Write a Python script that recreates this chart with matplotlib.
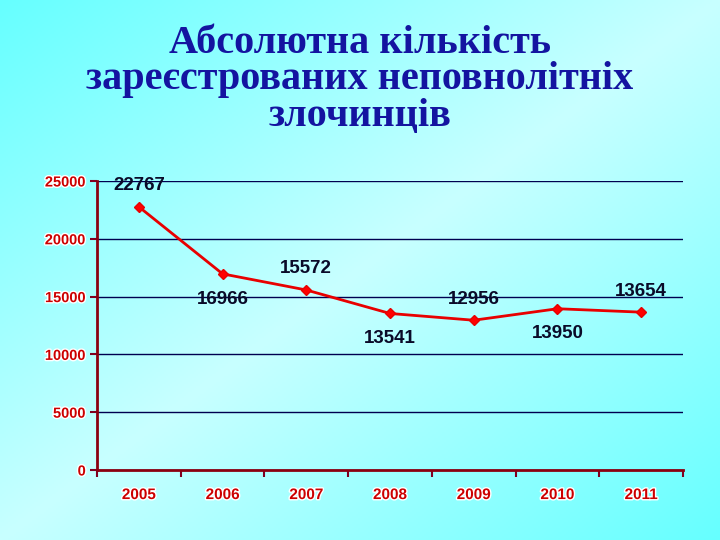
import numpy as np
import matplotlib
matplotlib.use("Agg")
import matplotlib.pyplot as plt
import matplotlib.patheffects as pe

years = ["2005", "2006", "2007", "2008", "2009", "2010", "2011"]
values = [22767, 16966, 15572, 13541, 12956, 13950, 13654]
label_pos = ["above", "below", "above", "below", "above", "below", "above"]
yticks = [0, 5000, 10000, 15000, 20000, 25000]
title_lines = ["Абсолютна кількість", "зареєстрованих неповнолітніх", "злочинців"]

fig = plt.figure(figsize=(7.2, 5.4), dpi=100)

# background gradient
bg = fig.add_axes([0, 0, 1, 1], zorder=-10)
h, w = 270, 360
yy, xx = np.mgrid[0:h, 0:w]
t = np.abs(xx / (w - 1) + yy / (h - 1) - 1.0)
t = np.clip(t, 0, 1)
c_light = np.array([200, 255, 255]) / 255
c_dark = np.array([102, 255, 255]) / 255
img = c_light[None, None, :] * (1 - t[..., None]) + c_dark[None, None, :] * t[..., None]
bg.imshow(img, aspect="auto", extent=[0, 1, 0, 1], origin="upper")
bg.set_axis_off()

for line, base in zip(title_lines, [53, 89, 126]):
    fig.text(0.5, 1 - base / 540, line, ha="center", va="baseline", fontsize=29,
             fontweight="bold", family="Liberation Serif", color="#1414A0")

ax = fig.add_axes([97 / 720, 70 / 540, 586 / 720, 289 / 540])
ax.patch.set_alpha(0)
x = np.arange(len(years))
ax.plot(x, values, color="#E80000", lw=2, marker="D", markersize=5.5,
        markerfacecolor="#FF0000", markeredgecolor="#E80000", zorder=3)

ax.set_xlim(-0.5, len(years) - 0.5)
ax.set_ylim(0, 25000)
ax.set_yticks(yticks)
ax.set_yticklabels([str(v) for v in yticks])
ax.yaxis.grid(True, color="#000050", lw=1)
ax.set_axisbelow(True)

ax.set_xticks(np.arange(-0.5, len(years), 1.0))
ax.set_xticklabels([])
ax.set_xticks(x, minor=True)
ax.set_xticklabels(years, minor=True)
ax.tick_params(axis="x", which="major", length=5, width=1.5, color="#800020", direction="out")
ax.tick_params(axis="x", which="minor", length=0, pad=13)
ax.tick_params(axis="y", length=5, width=1.5, color="#800020", pad=3)

stroke = [pe.withStroke(linewidth=2, foreground="white")]
for lab in ax.get_xticklabels(minor=True) + ax.get_yticklabels():
    lab.set_color("#CC0000")
    lab.set_fontweight("bold")
    lab.set_family("Liberation Sans")
    lab.set_path_effects(stroke)
for lab in ax.get_xticklabels(minor=True):
    lab.set_fontsize(11)
for lab in ax.get_yticklabels():
    lab.set_fontsize(10.5)

for s in ["top", "right"]:
    ax.spines[s].set_visible(False)
for s in ["left", "bottom"]:
    ax.spines[s].set_color("#8B0010")
    ax.spines[s].set_linewidth(2)

for xi, v, pos in zip(x, values, label_pos):
    if pos == "above":
        ax.annotate(str(v), (xi, v), xytext=(0, 9), textcoords="offset points",
                    ha="center", va="bottom", fontsize=13.5, fontweight="bold",
                    family="Liberation Sans", color="#0A0A28")
    else:
        ax.annotate(str(v), (xi, v), xytext=(0, -12), textcoords="offset points",
                    ha="center", va="top", fontsize=13.5, fontweight="bold",
                    family="Liberation Sans", color="#0A0A28")

fig.savefig("out.png", dpi=100)
